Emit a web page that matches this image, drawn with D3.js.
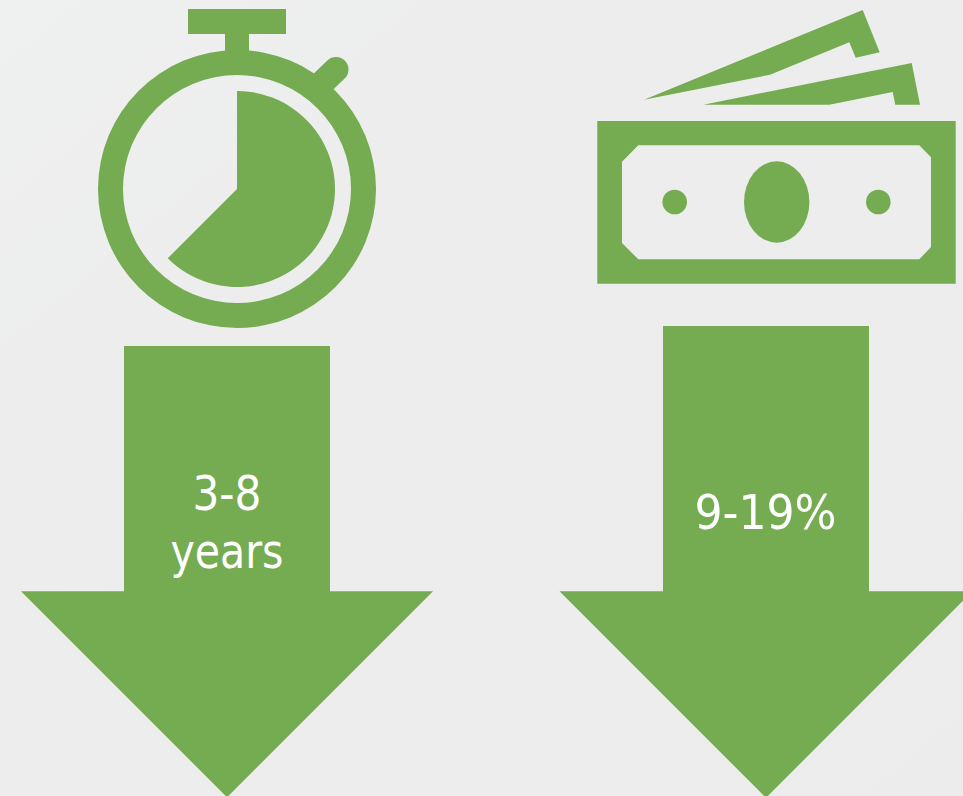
<!DOCTYPE html>
<html>
<head>
<meta charset="utf-8">
<style>
  html, body { margin: 0; padding: 0; background: #ededed; overflow: hidden; }
  svg { display: block; }
  text { font-family: "DejaVu Sans Condensed", "DejaVu Sans", sans-serif; fill: #ffffff; font-size: 48px; text-anchor: middle; }
</style>
<script src="https://cdn.jsdelivr.net/npm/d3@7/dist/d3.min.js"></script>
</head>
<body>
<script>
// Values printed on the two arrows, one text line per array entry
const durationLabel = ["3-8", "years"];
const costLabel = ["9-19%"];
// Share of the dial filled on the stopwatch face
const dialShare = [0.625];

const width = 963, height = 796, green = "#75ac52";

const svg = d3.select("body").append("svg")
  .attr("width", width).attr("height", height);

const defs = svg.append("defs");
const wash = defs.append("linearGradient").attr("id", "wash")
  .attr("x1", 0).attr("y1", 0).attr("x2", 1).attr("y2", 1);
wash.append("stop").attr("offset", 0).attr("stop-color", "#eff0f0");
wash.append("stop").attr("offset", 0.3).attr("stop-color", "#ededed");
wash.append("stop").attr("offset", 1).attr("stop-color", "#ececec");
svg.append("rect").attr("width", width).attr("height", height).attr("fill", "url(#wash)");

// Down arrow: a shaft ending in a right-angled head
function arrow(cx, top, neck, shaftHalf, headHalf) {
  const p = d3.path();
  p.moveTo(cx - shaftHalf, top);
  p.lineTo(cx + shaftHalf, top);
  p.lineTo(cx + shaftHalf, neck);
  p.lineTo(cx + headHalf, neck);
  p.lineTo(cx, neck + headHalf);
  p.lineTo(cx - headHalf, neck);
  p.lineTo(cx - shaftHalf, neck);
  p.closePath();
  return p.toString();
}

svg.append("path").attr("d", arrow(227, 346, 591.3, 103, 206)).attr("fill", green);
svg.append("path").attr("d", arrow(766, 326, 591.3, 103, 206.5)).attr("fill", green);

// Line widths keep the condensed face to the measure of the lettering
const durationWidths = [69, 113];
svg.selectAll("text.duration").data(durationLabel).join("text")
  .attr("class", "duration")
  .attr("x", 227)
  .attr("y", (d, i) => 510 + i * 57.5)
  .attr("textLength", (d, i) => durationWidths[i])
  .attr("lengthAdjust", "spacingAndGlyphs")
  .text(d => d);

svg.selectAll("text.cost").data(costLabel).join("text")
  .attr("class", "cost")
  .attr("x", 765.5)
  .attr("y", 529)
  .attr("textLength", 142)
  .attr("lengthAdjust", "spacingAndGlyphs")
  .text(d => d);

// Stopwatch
const watch = svg.append("g").attr("transform", "translate(237,189)").attr("fill", green);
watch.append("path").attr("d", d3.arc()({
  innerRadius: 114, outerRadius: 139, startAngle: 0, endAngle: 2 * Math.PI
}));
watch.append("rect").attr("x", -49).attr("y", -180).attr("width", 98).attr("height", 25);
watch.append("rect").attr("x", -12).attr("y", -156).attr("width", 24).attr("height", 30);
watch.append("line")
  .attr("x1", 86).attr("y1", -107).attr("x2", 99).attr("y2", -119.5)
  .attr("stroke", green).attr("stroke-width", 25).attr("stroke-linecap", "round");

const dialAngle = d3.scaleLinear().domain([0, 1]).range([0, 2 * Math.PI]);
watch.selectAll("path.fillWedge").data(dialShare).join("path")
  .attr("class", "fillWedge")
  .attr("d", d => d3.arc()({
    innerRadius: 0, outerRadius: 98, startAngle: 0, endAngle: dialAngle(d)
  }));

// Banknotes
const note = svg.append("g").attr("fill", green);
const toPath = d3.line();
note.append("path").attr("fill-rule", "evenodd").attr("d",
  toPath([[597.3,121],[955.7,121],[955.7,283.7],[597.3,283.7]]) + "Z" +
  toPath([[638.3,145.3],[919.3,145.3],[931,157.3],[931,247],[919.3,259.3],[638.3,259.3],[622,243],[622,161.7]]) + "Z");
note.append("ellipse").attr("cx", 776.7).attr("cy", 202).attr("rx", 32.7).attr("ry", 40.7);
note.append("circle").attr("cx", 674.7).attr("cy", 202).attr("r", 12.3);
note.append("circle").attr("cx", 878.3).attr("cy", 202).attr("r", 12.3);
note.append("path").attr("d", toPath([[862.7,10],[879.7,52.3],[855.7,57.7],[849.3,42.3],[770,74.7],[644,99.7]]) + "Z");
note.append("path").attr("d", toPath([[911.7,63],[920,104.7],[895.3,104.7],[892.7,92],[829.3,104.7],[703.3,104.7]]) + "Z");
</script>
</body>
</html>
